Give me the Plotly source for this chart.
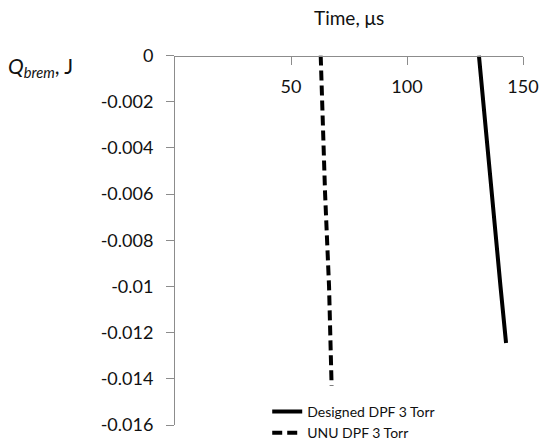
import plotly.graph_objects as go

# Data
designed_time = [131.0, 136.4, 140.3, 142.7]
designed_q = [0.0, -0.006, -0.010, -0.01245]
unu_time = [62.8, 64.7, 66.4, 67.5]
unu_q = [0.0, -0.006, -0.010, -0.0143]

x_ticks = [50, 100, 150]
y_ticks = [0, -0.002, -0.004, -0.006, -0.008, -0.01, -0.012, -0.014, -0.016]
y_tick_text = ["0", "-0.002", "-0.004", "-0.006", "-0.008", "-0.01", "-0.012", "-0.014", "-0.016"]

FONT = "Lato, Carlito, Calibri, sans-serif"
TXT = "#111111"
AX = "#8c8c8c"

TOP_M, BOT_M = 30, 21
plot_h = 446 - TOP_M - BOT_M
y_top = (425 - 55.5) / plot_h

fig = go.Figure()
fig.add_trace(go.Scatter(
    x=designed_time, y=designed_q, mode="lines", name="Designed DPF 3 Torr",
    line=dict(color="black", width=4), legendgroup="a"))
fig.add_trace(go.Scatter(
    x=unu_time, y=unu_q, mode="lines", name="UNU DPF 3 Torr",
    line=dict(color="black", width=4, dash="10px,5px"), legendgroup="b"))

fig.update_layout(
    width=543, height=446,
    margin=dict(l=175, r=20, t=TOP_M, b=BOT_M, autoexpand=False),
    plot_bgcolor="white", paper_bgcolor="white",
    font=dict(family=FONT, color=TXT, size=18),
    showlegend=True,
    legend=dict(x=0.265, xanchor="left", y=(425 - 396) / plot_h, yanchor="top",
                font=dict(size=14, family=FONT, color=TXT),
                bgcolor="rgba(0,0,0,0)", tracegroupgap=0),
    xaxis=dict(range=[0, 150], side="bottom", anchor="free", position=y_top,
               tickvals=x_ticks,
               ticks="outside", ticklen=8, tickcolor=AX, tickwidth=1,
               ticklabelstandoff=7,
               showline=True, linecolor=AX, linewidth=1, showgrid=False,
               zeroline=False, tickfont=dict(size=18, family=FONT, color=TXT)),
    yaxis=dict(range=[-0.016, 0], domain=[0, y_top],
               tickvals=y_ticks, ticktext=y_tick_text,
               ticks="outside", ticklen=8, tickcolor=AX, tickwidth=1,
               ticklabelstandoff=9,
               showline=True, linecolor=AX, linewidth=1, showgrid=False,
               zeroline=False, tickfont=dict(size=18, family=FONT, color=TXT)),
)

fig.add_annotation(
    text="Time, μs", xref="paper", yref="paper",
    x=0.5, y=(425 - 17) / plot_h, xanchor="center", yanchor="middle", showarrow=False,
    font=dict(size=19, family=FONT, color=TXT))

fig.add_annotation(
    text="<i>Q<sub>brem</sub></i>, J", xref="paper", yref="paper",
    x=-0.486, y=(425 - 67) / plot_h, xanchor="left", yanchor="middle", showarrow=False,
    font=dict(size=21, family=FONT, color=TXT))

fig.write_html("out.html")
